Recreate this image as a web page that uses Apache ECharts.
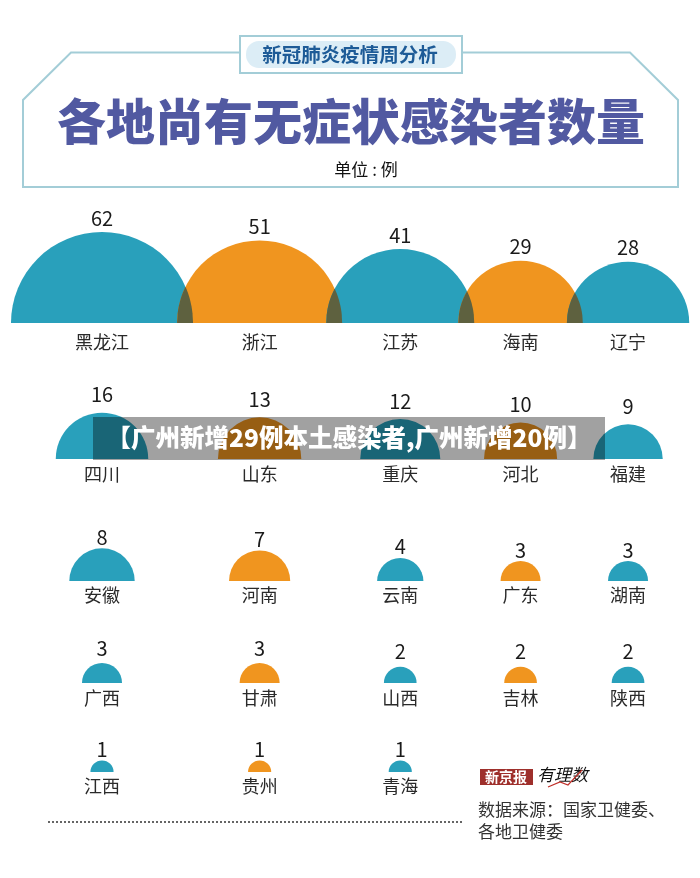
<!DOCTYPE html>
<html>
<head>
<meta charset="utf-8">
<script src="https://cdn.jsdelivr.net/npm/echarts@6/dist/echarts.min.js"></script>
<style>
  html, body { margin: 0; padding: 0; background: #fff; }
  #main { width: 700px; height: 878px; }
</style>
</head>
<body>
<div id="main"></div>
<script type="text/javascript">
// 各地尚有无症状感染者数量（单位：例）
var provinces = ['黑龙江', '浙江', '江苏', '海南', '辽宁',
                 '四川', '山东', '重庆', '河北', '福建',
                 '安徽', '河南', '云南', '广东', '湖南',
                 '广西', '甘肃', '山西', '吉林', '陕西',
                 '江西', '贵州', '青海'];
var cases = [62, 51, 41, 29, 28,
             16, 13, 12, 10, 9,
             8, 7, 4, 3, 3,
             3, 3, 2, 2, 2,
             1, 1, 1];
var perRow = 5;

// layout / style
var FONT = '"Noto Sans CJK SC", "Noto Sans", sans-serif';
var BLUE = '#29a0bb', ORANGE = '#f0951f', MIX = '#5e613f';
var SIZE_K = 11.56;            // px per sqrt(例)
var X_MAX = 700 / SIZE_K;
var GRID_H = 110;
var ROW_BASE = [323, 459, 581, 683, 772];
var NAME_OFF = [19, 15, 14, 15, 14];
var NUM_GAP = [14, 18, 11, 15, 11];
var EDGE = 0.95, OVERLAP = 1.38;   // sqrt units

// split into rows
var rows = [];
for (var i = 0; i < provinces.length; i += perRow) {
  rows.push({ names: provinces.slice(i, i + perRow), values: cases.slice(i, i + perRow) });
}

// column centres: domes of the first row packed side by side
var colX = [];
rows[0].values.forEach(function (v, k) {
  var u = Math.sqrt(v);
  if (k === 0) colX.push(EDGE + u);
  else colX.push(colX[k - 1] + Math.sqrt(rows[0].values[k - 1]) + u - OVERLAP);
});

function domeRenderer(rowIdx) {
  return function (params, api) {
    var col = api.value(0), v = api.value(1);
    var p = api.coord([colX[col], 0]);
    var r = api.size([Math.sqrt(v), 0])[0];
    return {
      type: 'group',
      children: [
        { type: 'sector',
          shape: { cx: p[0], cy: p[1], r0: 0, r: r, startAngle: Math.PI, endAngle: Math.PI * 2, clockwise: true },
          style: { fill: col % 2 ? ORANGE : BLUE } },
        { type: 'text',
          style: { text: String(v), x: p[0], y: p[1] - r - NUM_GAP[rowIdx], align: 'center', verticalAlign: 'middle',
                   fontSize: 20, fontFamily: FONT, fill: '#1a1a1a' } },
        { type: 'text',
          style: { text: rows[rowIdx].names[params.dataIndex], x: p[0], y: p[1] + NAME_OFF[rowIdx],
                   align: 'center', verticalAlign: 'middle', fontSize: 18, fontFamily: FONT, fill: '#2a2a2a' } }
      ]
    };
  };
}

// dark lens where two neighbouring domes of the first row overlap
function overlapRenderer(params, api) {
  var k = api.value(0);
  var vals = rows[0].values;
  var a = api.coord([colX[k], 0]), b = api.coord([colX[k + 1], 0]);
  var ra = api.size([Math.sqrt(vals[k]), 0])[0], rb = api.size([Math.sqrt(vals[k + 1]), 0])[0];
  var xl = b[0] - rb, xr = a[0] + ra;
  if (xl >= xr) return null;
  var pts = [[xl, a[1]]];
  var n = 30;
  for (var j = 0; j <= n; j++) {
    var x = xl + (xr - xl) * j / n;
    var ha = Math.sqrt(Math.max(0, ra * ra - (x - a[0]) * (x - a[0])));
    var hb = Math.sqrt(Math.max(0, rb * rb - (x - b[0]) * (x - b[0])));
    pts.push([x, a[1] - Math.min(ha, hb)]);
  }
  pts.push([xr, a[1]]);
  return { type: 'polygon', shape: { points: pts }, style: { fill: MIX } };
}

var series = rows.map(function (row, ri) {
  return {
    type: 'custom',
    xAxisIndex: ri, yAxisIndex: ri,
    renderItem: domeRenderer(ri),
    data: row.values.map(function (v, k) { return [k, v]; })
  };
});
series.push({
  type: 'custom',
  xAxisIndex: 0, yAxisIndex: 0,
  renderItem: overlapRenderer,
  data: rows[0].values.slice(1).map(function (v, k) { return [k, 0]; })
});

var frameColor = '#a3cdd7';
var graphic = [
  { type: 'polyline', z: 10,
    shape: { points: [[240, 52.5], [71, 52.5], [23, 100], [23, 187], [678, 187], [678, 100], [630, 52.5], [462, 52.5]] },
    style: { stroke: frameColor, lineWidth: 2, fill: null } },
  { type: 'rect', z: 10, shape: { x: 240, y: 36, width: 222, height: 37 },
    style: { fill: '#fff', stroke: frameColor, lineWidth: 2 } },
  { type: 'rect', z: 11, shape: { x: 246, y: 41, width: 210, height: 27, r: 13 },
    style: { fill: '#dcedf6' } },
  { type: 'text', z: 12, style: { text: '新冠肺炎疫情周分析', x: 350, y: 55, align: 'center', verticalAlign: 'middle',
    fontSize: 19.5, fontWeight: 'bold', fontFamily: FONT, fill: '#1d5b97' } },
  { type: 'text', z: 12, style: { text: '各地尚有无症状感染者数量', x: 351, y: 121, align: 'center', verticalAlign: 'middle',
    fontSize: 49, fontWeight: 900, fontFamily: FONT, fill: '#5159a1' } },
  { type: 'text', z: 12, style: { text: '单位 : 例', x: 366, y: 170, align: 'center', verticalAlign: 'middle',
    fontSize: 17, fontFamily: FONT, fill: '#111' } },

  // banner overlay
  { type: 'rect', z: 100, shape: { x: 93, y: 417, width: 512, height: 43 },
    style: { fill: 'rgba(0,0,0,0.37)' } },
  { type: 'text', z: 101, style: { text: '【广州新增29例本土感染者,广州新增20例】', x: 349, y: 438, align: 'center', verticalAlign: 'middle',
    fontSize: 24.5, fontWeight: 900, fontFamily: FONT, fill: '#fff' } },

  // footer
  { type: 'line', z: 10, shape: { x1: 48, y1: 822, x2: 462, y2: 822 },
    style: { stroke: '#333', lineWidth: 1.5, lineDash: [2, 2] } },
  { type: 'rect', z: 10, shape: { x: 480, y: 769, width: 53, height: 16 }, style: { fill: '#9e2f2b' } },
  { type: 'text', z: 11, style: { text: '新京报', x: 506, y: 777, align: 'center', verticalAlign: 'middle',
    fontSize: 14, fontWeight: 'bold', fontFamily: FONT, fill: '#fff' } },
  { type: 'text', z: 11, style: { text: '有理数', x: 537, y: 775, align: 'left', verticalAlign: 'middle',
    fontSize: 17, fontStyle: 'italic', fontFamily: FONT, fill: '#111' } },
  { type: 'polyline', z: 12, shape: { points: [[548, 787], [560, 782], [568, 785], [582, 770]] },
    style: { stroke: '#c0302a', lineWidth: 1.2, fill: null } },
  { type: 'text', z: 10, style: { text: '数据来源：国家卫健委、', x: 478, y: 810, align: 'left', verticalAlign: 'middle',
    fontSize: 17, fontFamily: FONT, fill: '#333' } },
  { type: 'text', z: 10, style: { text: '各地卫健委', x: 478, y: 832, align: 'left', verticalAlign: 'middle',
    fontSize: 17, fontFamily: FONT, fill: '#333' } }
];

var myChart = echarts.init(document.getElementById('main'));
var option = {
  animation: false,
  backgroundColor: '#fff',
  grid: rows.map(function (r, i) {
    return { left: 0, right: 0, top: ROW_BASE[i] - GRID_H, height: GRID_H };
  }),
  xAxis: rows.map(function (r, i) {
    return { gridIndex: i, type: 'value', min: 0, max: X_MAX, show: false };
  }),
  yAxis: rows.map(function (r, i) {
    return { gridIndex: i, type: 'value', min: 0, max: GRID_H / SIZE_K, show: false };
  }),
  series: series,
  graphic: graphic
};
myChart.setOption(option);
</script>
</body>
</html>
